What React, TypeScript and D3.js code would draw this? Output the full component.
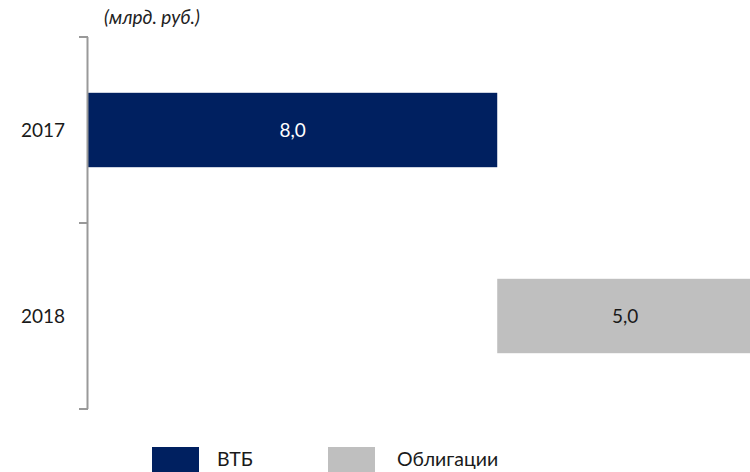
import React from "react";
import * as d3 from "d3";

const categories = ["2017", "2018"];
const seriesNames = ["ВТБ", "Облигации"];
const seriesColors = ["#002060", "#BFBFBF"];
const baseValues = [0, 8.0];
const vtbValues = [8.0, 0];
const bondValues = [0, 5.0];
const labelValues = ["8,0", "5,0"];
const unitTitle = "(млрд. руб.)";

const W = 750;
const H = 472;
const FONT = "Lato, 'Open Sans', sans-serif";

export default function App() {
  const x = d3.scaleLinear().domain([0, 13]).range([88, 753]);
  const y = d3
    .scaleBand<string>()
    .domain(categories)
    .range([37, 409])
    .paddingInner(0.6)
    .paddingOuter(0.3);
  const step = y.step();
  const axisTop = 37;
  const tickYs = d3.range(categories.length + 1).map((i) => axisTop + i * step);

  const bars: { cat: string; start: number; val: number; color: string; label: string }[] = [];
  categories.forEach((c, i) => {
    const base = baseValues[i];
    if (vtbValues[i] > 0)
      bars.push({ cat: c, start: base, val: vtbValues[i], color: seriesColors[0], label: labelValues[i] });
    if (bondValues[i] > 0)
      bars.push({ cat: c, start: base + vtbValues[i], val: bondValues[i], color: seriesColors[1], label: labelValues[i] });
  });

  const legendX = [152, 328];
  const legendTextX = [217, 397];

  return (
    <svg
      width={W}
      height={H}
      style={{ position: "absolute", left: 0, top: 0, background: "#fff" }}
      fontFamily={FONT}
    >
      <text x={104} y={24} fontSize={19} fontStyle="italic" fill="#222">
        {unitTitle}
      </text>
      {bars.map((b, i) => {
        const x0 = x(b.start);
        const x1 = x(b.start + b.val);
        const yy = y(b.cat)!;
        const bw = y.bandwidth();
        return (
          <g key={i}>
            <rect x={x0} y={yy} width={x1 - x0} height={bw} fill={b.color} />
            <text
              x={(x0 + x1) / 2}
              y={yy + bw / 2}
              dy="0.35em"
              textAnchor="middle"
              fontSize={19}
              fill={b.color === seriesColors[0] ? "#ffffff" : "#1a1a1a"}
            >
              {b.label}
            </text>
          </g>
        );
      })}
      <line x1={87.5} x2={87.5} y1={tickYs[0]} y2={tickYs[tickYs.length - 1]} stroke="#999" strokeWidth={2} />
      {tickYs.map((t, i) => (
        <line key={i} x1={79} x2={88} y1={t} y2={t} stroke="#999" strokeWidth={2} />
      ))}
      {categories.map((c) => (
        <text
          key={c}
          x={65}
          y={y(c)! + y.bandwidth() / 2}
          dy="0.35em"
          textAnchor="end"
          fontSize={19}
          fill="#1a1a1a"
        >
          {c}
        </text>
      ))}
      {seriesNames.map((s, i) => (
        <g key={s}>
          <rect x={legendX[i]} y={447} width={47} height={28} fill={seriesColors[i]} />
          <text x={legendTextX[i]} y={466} fontSize={19.5} fill="#1a1a1a">
            {s}
          </text>
        </g>
      ))}
    </svg>
  );
}
